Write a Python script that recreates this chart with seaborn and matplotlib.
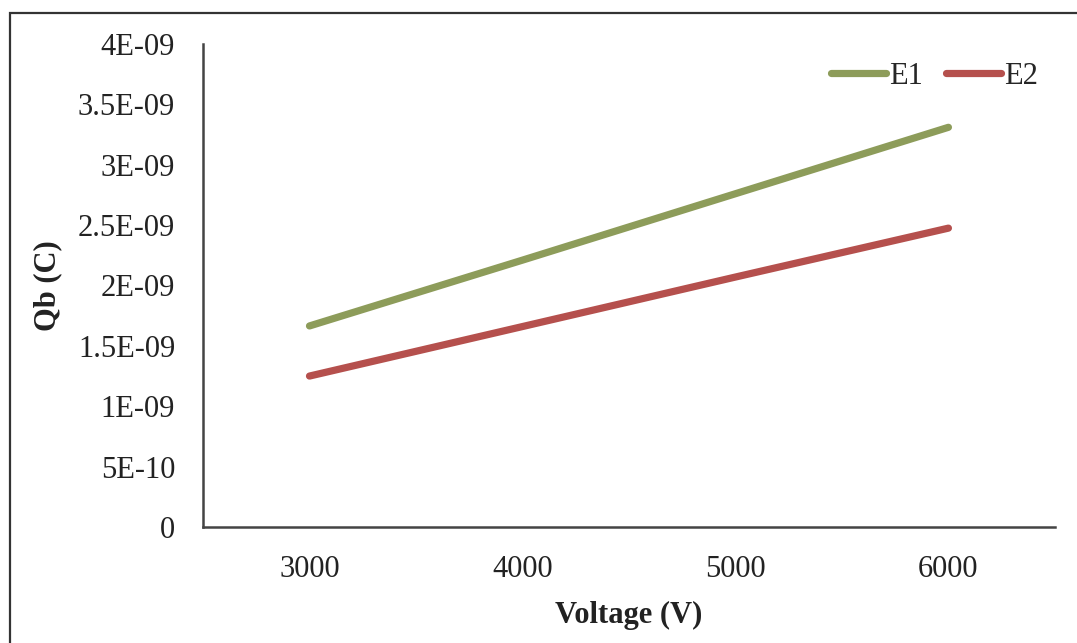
import matplotlib
matplotlib.use("Agg")
import matplotlib.pyplot as plt
from matplotlib.patches import Rectangle
from matplotlib.ticker import FuncFormatter
import pandas as pd
import seaborn as sns

# Bound charge versus applied voltage for two electrode configurations
voltage = [3000, 4000, 5000, 6000]
qb_e1 = [1.665e-09, 2.21e-09, 2.76e-09, 3.31e-09]
qb_e2 = [1.25e-09, 1.66e-09, 2.07e-09, 2.475e-09]
series_names = ["E1", "E2"]
series_colors = ["#8d9c5a", "#b5504d"]

df = pd.DataFrame({
    "Voltage": voltage * 2,
    "Qb": qb_e1 + qb_e2,
    "Series": [series_names[0]] * len(voltage) + [series_names[1]] * len(voltage),
})

sns.set_theme(style="white")
plt.rcParams["font.family"] = ["Liberation Serif", "DejaVu Serif"]

fig = plt.figure(figsize=(10.77, 6.43), dpi=100)
ax = fig.add_axes([0.1885, 0.1804, 0.791, 0.7512])

sns.lineplot(data=df, x="Voltage", y="Qb", hue="Series",
             palette=dict(zip(series_names, series_colors)),
             linewidth=5.2, ax=ax, solid_capstyle="round", legend=True)

ax.set_xlim(2500, 6500)
ax.set_ylim(0, 4e-09)
ax.set_xticks(voltage)
ax.set_yticks([i * 5e-10 for i in range(9)])


def excel_sci(v, _pos):
    if abs(v) < 1e-20:
        return "0"
    s = f"{v:.1E}"
    mant, exp = s.split("E")
    if mant.endswith(".0"):
        mant = mant[:-2]
    return f"{mant}E{exp}"


ax.yaxis.set_major_formatter(FuncFormatter(excel_sci))
ax.tick_params(axis="both", labelsize=22, colors="#222222", length=0)
ax.tick_params(axis="y", pad=20)
ax.tick_params(axis="x", pad=20)

ax.set_xlabel("Voltage (V)", fontsize=22, fontweight="bold", color="#222222", labelpad=12)
ax.set_ylabel("Qb (C)", fontsize=22, fontweight="bold", color="#222222")
ax.yaxis.set_label_coords(-0.1655, 0.5)

for side in ["top", "right"]:
    ax.spines[side].set_visible(False)
for side in ["left", "bottom"]:
    ax.spines[side].set_color("#444444")
    ax.spines[side].set_linewidth(1.8)

leg = ax.legend(loc="upper right", frameon=False, fontsize=22, ncol=2,
                handlelength=1.8, handletextpad=0.1, columnspacing=0.75,
                bbox_to_anchor=(1.012, 1.02))
for line in leg.get_lines():
    line.set_linewidth(5.2)
    line.set_solid_capstyle("round")

# Chart-area frame
fig.patches.append(Rectangle((10 / 1077, -0.05), 1.2, 1 - 13 / 643 + 0.05,
                             transform=fig.transFigure, fill=False,
                             edgecolor="#333333", linewidth=1.6))

fig.savefig("out.png", dpi=100)
